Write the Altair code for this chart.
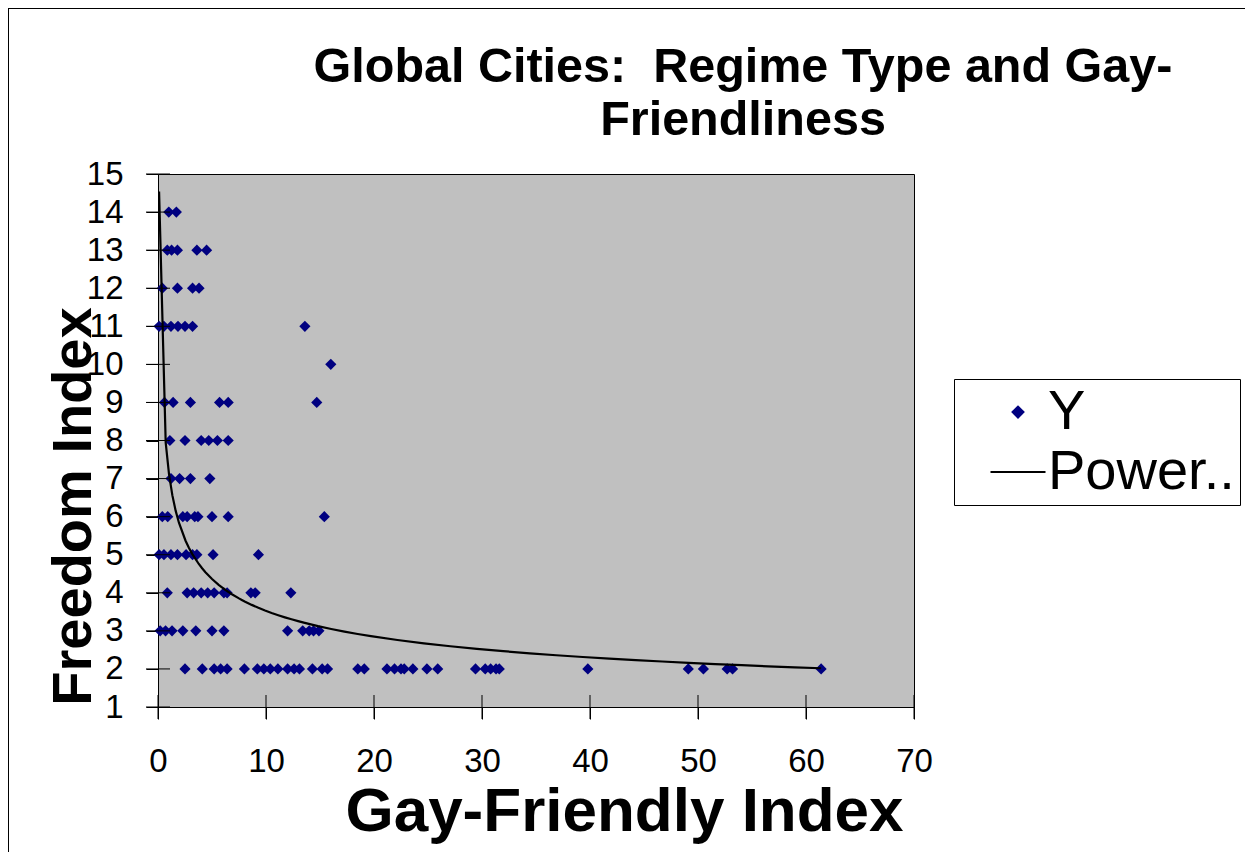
import altair as alt
import pandas as pd

# Gay-Friendly Index values grouped by Freedom Index (y)
fi2 = [2.5, 4.1, 5.2, 5.8, 6.4, 8.0, 9.2, 9.8, 10.4, 11.1, 12.0, 12.6, 13.1, 14.3, 15.2, 15.7,
       18.5, 19.1, 21.2, 21.9, 22.5, 22.8, 23.6, 24.9, 25.9, 29.4, 30.3, 30.8, 31.3, 31.6,
       39.8, 49.1, 50.5, 52.7, 53.2, 61.4]
fi3 = [0.2, 0.7, 1.3, 2.3, 3.5, 5.0, 6.1, 12.0, 13.4, 14.0, 14.4, 14.9]
fi4 = [0.86, 2.7, 3.3, 4.0, 4.6, 5.2, 6.1, 6.4, 8.6, 9.0, 12.3]
fi5 = [0.1, 0.55, 1.2, 1.8, 2.6, 3.2, 3.6, 5.1, 9.3]
fi6 = [0.4, 0.9, 2.3, 2.7, 3.4, 3.7, 5.0, 6.5, 15.4]
fi7 = [1.2, 2.0, 3.0, 4.8]
fi8 = [1.1, 2.5, 4.0, 4.7, 5.5, 6.5]
fi9 = [0.6, 1.4, 3.0, 5.7, 6.5, 14.7]
fi10 = [16.0]
fi11 = [0.1, 0.55, 1.2, 1.85, 2.5, 3.2, 13.6]
fi12 = [0.4, 1.8, 3.2, 3.8]
fi13 = [0.86, 1.26, 1.8, 3.6, 4.5]
fi14 = [1.0, 1.7]

groups = {2: fi2, 3: fi3, 4: fi4, 5: fi5, 6: fi6, 7: fi7, 8: fi8, 9: fi9,
          10: fi10, 11: fi11, 12: fi12, 13: fi13, 14: fi14}

x_ticks = [0, 10, 20, 30, 40, 50, 60, 70]
y_ticks = list(range(1, 16))
series_names = ["Y", "Power.."]
title_lines = ["Global Cities:\u00a0 Regime Type and Gay-", "Friendliness"]

rows = []
for yv, xs in groups.items():
    for xv in xs:
        rows.append({"x": xv, "y": yv, "series": "Y"})
df = pd.DataFrame(rows)

FONT = "Liberation Sans"
W, H = 756, 533

xscale = alt.Scale(domain=[0, 70], nice=False, zero=False)
yscale = alt.Scale(domain=[1, 15], nice=False, zero=False)
color_scale = alt.Scale(domain=series_names, range=["#000080", "#000000"])
# small diamond and a thin bar (line symbol), both as symbol paths
shape_scale = alt.Scale(domain=series_names,
                        range=["M-0.25,0L0,-0.25L0.25,0L0,0.25Z",
                               "M-1,-0.04H1V0.04H-1Z"])

legend = alt.Legend(
    title=None, orient="none", legendX=796, legendY=205,
    labelFont=FONT, labelFontSize=56, labelColor="black", labelLimit=500,
    symbolSize=3025, symbolOffset=31, labelOffset=2, symbolStrokeWidth=0,
    padding=5, rowPadding=4,
    strokeColor="black", fillColor="white",
)

x_axis = alt.Axis(values=x_ticks, title="Gay-Friendly Index", grid=False,
                  tickSize=12, tickColor="black", domainColor="black",
                  labelFont=FONT, labelFontSize=33, labelColor="black",
                  labelPadding=26, labelFlush=False, labelOverlap=False,
                  titleFont=FONT, titleFontSize=62, titleFontWeight="bold",
                  titleColor="black", titleX=466, titleY=123,
                  titleBaseline="alphabetic")
y_axis = alt.Axis(values=y_ticks, title="Freedom Index", grid=False,
                  tickSize=12, tickColor="black", domainColor="black",
                  labelFont=FONT, labelFontSize=33, labelColor="black",
                  labelPadding=23, labelFlush=False, labelOverlap=False,
                  titleFont=FONT, titleFontSize=56, titleFontWeight="bold",
                  titleColor="black", titleX=-68, titleY=332,
                  titleBaseline="alphabetic")

base = alt.Chart(df)

points = base.mark_point(filled=True, size=2000, opacity=1, strokeWidth=0).encode(
    x=alt.X("x:Q", scale=xscale, axis=x_axis),
    y=alt.Y("y:Q", scale=yscale, axis=y_axis),
    color=alt.Color("series:N", scale=color_scale, legend=legend),
    shape=alt.Shape("series:N", scale=shape_scale, legend=legend),
)

trend = base.transform_regression("x", "y", method="pow").mark_line(
    strokeWidth=2.2, color="black", clip=True
).encode(x=alt.X("x:Q", scale=xscale, axis=x_axis),
         y=alt.Y("y:Q", scale=yscale, axis=y_axis))

xt = pd.DataFrame({"t": x_ticks})
yt = pd.DataFrame({"t": y_ticks})
xticks_in = alt.Chart(xt).mark_tick(orient="vertical", size=24, thickness=1,
                                    color="black", opacity=1).encode(
    x=alt.X("t:Q", scale=xscale, axis=x_axis), y=alt.value(H))
yticks_in = alt.Chart(yt).mark_tick(orient="horizontal", size=24, thickness=1,
                                    color="black", opacity=1).encode(
    y=alt.Y("t:Q", scale=yscale, axis=y_axis), x=alt.value(0))

frame = alt.Chart(xt).mark_rect(fill=None, stroke="black", strokeWidth=1).encode(
    x=alt.value(-149.5), x2=alt.value(1240), y=alt.value(-165.5), y2=alt.value(900))

chart = alt.layer(frame, points, trend, xticks_in, yticks_in).properties(
    width=W, height=H,
    title=alt.Title(title_lines,
                    font=FONT, fontSize=48.5, fontWeight="bold", color="black",
                    anchor="middle", dx=207, offset=-185, lineHeight=53,
                    baseline="bottom"),
    padding={"left": 150, "top": 166, "right": 331, "bottom": 145},
    autosize=alt.AutoSizeParams(type="none"),
    background="white",
).configure_view(
    fill="#C0C0C0", stroke="black", strokeWidth=1
)

chart.save("out.html", embed_options={"renderer": "svg", "actions": False})
